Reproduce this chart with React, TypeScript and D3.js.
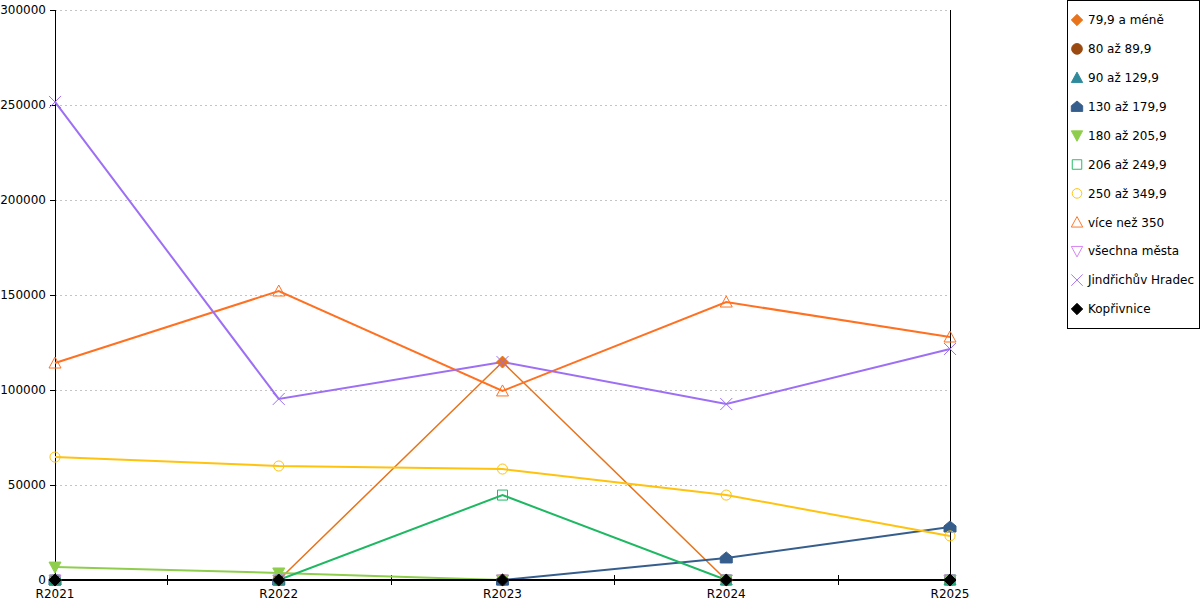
import React from "react";
import * as d3 from "d3";

const categories = ["R2021", "R2022", "R2023", "R2024", "R2025"];
const yTicks = [0, 50000, 100000, 150000, 200000, 250000, 300000];

const seriesNames = [
  "79,9 a méně",
  "80 až 89,9",
  "90 až 129,9",
  "130 až 179,9",
  "180 až 205,9",
  "206 až 249,9",
  "250 až 349,9",
  "více než 350",
  "všechna města",
  "Jindřichův Hradec",
  "Kopřivnice",
];

const s79 = [0, 0, 114700, 0, 0];
const s80 = [0, 0, 0, 0, 0];
const s90 = [0, 0, 0, 0, 0];
const s130 = [0, 0, 0, 11600, 27900];
const s180 = [6800, 3700, 0, 0, 0];
const s206 = [0, 0, 44700, 0, 0];
const s250 = [64700, 60000, 58400, 44700, 23200];
const s350 = [114200, 152100, 99500, 146300, 127900];
const sAll = [0, 0, 0, 0, 0];
const sJH = [251600, 95300, 114700, 92600, 121600];
const sKop = [0, 0, 0, 0, 0];

const seriesValues = [s79, s80, s90, s130, s180, s206, s250, s350, sAll, sJH, sKop];
const colors = [
  "#e8731a",
  "#9a4a10",
  "#2f8a9c",
  "#365e8d",
  "#8fce4c",
  "#1db861",
  "#ffc20e",
  "#ff7020",
  "#d47cf2",
  "#9d6ff5",
  "#000000",
];
const markerKinds = [
  "diamond", "circle", "triangle", "house", "tridown",
  "squareO", "circleO", "triangleO", "tridownO", "x", "diamond",
];

function markerPath(kind: string): string {
  switch (kind) {
    case "diamond":
      return "M0,-6L6,0L0,6L-6,0Z";
    case "circle":
      return d3.symbol(d3.symbolCircle, 100)() as string;
    case "triangle":
      return "M0,-6L6,5L-6,5Z";
    case "house":
      return "M0,-6L6,-1L6,5L-6,5L-6,-1Z";
    case "tridown":
      return "M-6,-5L6,-5L0,6Z";
    case "squareO":
      return "M-5,-5L5,-5L5,5L-5,5Z";
    case "circleO":
      return d3.symbol(d3.symbolCircle, 80)() as string;
    case "triangleO":
      return "M0,-6L6,5L-6,5Z";
    case "tridownO":
      return "M-6,-5L6,-5L0,6Z";
    case "x":
      return "M-6,-6L6,6M6,-6L-6,6";
    default:
      return "";
  }
}
function isFilled(kind: string) {
  return !kind.endsWith("O") && kind !== "x";
}

export default function App() {
  const left = 55, right = 950, top = 10, bottom = 580;
  const x = d3.scalePoint<string>().domain(categories).range([left, right]);
  const y = d3.scaleLinear().domain([0, 300000]).range([bottom, top]);
  const line = d3
    .line<number>()
    .x((_, i) => x(categories[i]) as number)
    .y((v) => y(v));
  const step = x.step();
  const font = "'DejaVu Sans', sans-serif";

  return (
    <svg
      width={1200}
      height={600}
      style={{ position: "absolute", left: 0, top: 0, background: "#fff" }}
      fontFamily={font}
      fontSize={12}
    >
      {/* gridlines */}
      {yTicks.filter((t) => t > 0).map((t) => (
        <line key={t} x1={left} x2={right} y1={y(t) + 0.5} y2={y(t) + 0.5} stroke="#c4c4c4" strokeDasharray="2,3" />
      ))}
      {/* y axes */}
      <line x1={left + 0.5} x2={left + 0.5} y1={top} y2={bottom} stroke="#000" strokeWidth={1} shapeRendering="crispEdges" />
      <line x1={right + 0.5} x2={right + 0.5} y1={top} y2={bottom} stroke="#000" strokeWidth={1} shapeRendering="crispEdges" />
      {yTicks.map((t) => (
        <g key={t}>
          <line x1={left - 5} x2={left} y1={y(t) + 0.5} y2={y(t) + 0.5} stroke="#000" shapeRendering="crispEdges" />
          <text x={left - 9} y={y(t)} dy="0.35em" textAnchor="end" fill="#000">
            {t}
          </text>
        </g>
      ))}
      {/* x tick marks between categories */}
      {categories.slice(0, -1).map((c) => {
        const xm = Math.round((x(c) as number) + step / 2) + 0.5;
        return <line key={c} x1={xm} x2={xm} y1={bottom - 5} y2={bottom + 5} stroke="#000" shapeRendering="crispEdges" />;
      })}
      {categories.map((c) => (
        <text key={c} x={x(c) as number} y={bottom + 14} dy="0.35em" textAnchor="middle" fill="#000">
          {c}
        </text>
      ))}
      {/* series lines */}
      {seriesValues.map((vals, si) => (
        <path
          key={"l" + si}
          d={line(vals) as string}
          fill="none"
          stroke={colors[si]}
          strokeWidth={si === 0 ? 1.5 : 2}
        />
      ))}
      {/* x axis line */}
      <line x1={left} x2={right} y1={bottom} y2={bottom} stroke="#000" strokeWidth={2} shapeRendering="crispEdges" />
      {/* markers */}
      {seriesValues.map((vals, si) =>
        vals.map((v, i) => {
          const k = markerKinds[si];
          return (
            <path
              key={"m" + si + "-" + i}
              d={markerPath(k)}
              transform={`translate(${x(categories[i])},${y(v)})`}
              fill={isFilled(k) ? colors[si] : "none"}
              stroke={colors[si]}
              strokeWidth={1}
            />
          );
        })
      )}
      {/* legend */}
      <rect x={1067.5} y={0.5} width={132} height={328} fill="#fff" stroke="#000" shapeRendering="crispEdges" />
      {seriesNames.map((name, si) => {
        const ly = 20 + si * 28.9;
        const k = markerKinds[si];
        return (
          <g key={"lg" + si}>
            <path
              d={markerPath(k)}
              transform={`translate(1077,${ly}) scale(0.95)`}
              fill={isFilled(k) ? colors[si] : "none"}
              stroke={colors[si]}
              strokeWidth={1}
            />
            <text x={1088} y={ly} dy="0.35em" fill="#000">
              {name}
            </text>
          </g>
        );
      })}
    </svg>
  );
}
